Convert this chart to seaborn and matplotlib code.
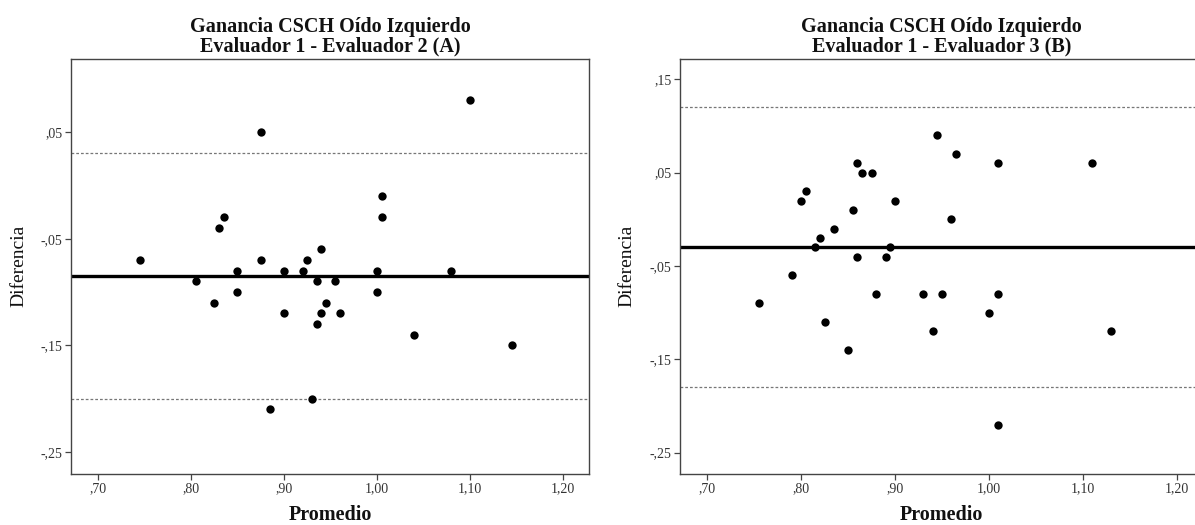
import matplotlib
matplotlib.use("Agg")
import matplotlib.pyplot as plt
import seaborn as sns
import pandas as pd

sns.set_theme(style="white")
plt.rcParams['font.family'] = ['Liberation Serif', 'DejaVu Serif']

# ---- Data: panel A (Evaluador 1 - Evaluador 2) ----
promedio_a = [1.10, 0.875, 1.005, 1.005, 0.835, 0.830, 0.940, 0.745, 0.875, 0.925,
              0.850, 0.900, 0.920, 1.000, 1.080, 0.805, 0.935, 0.955, 0.850, 1.000,
              0.825, 0.945, 0.900, 0.940, 0.960, 0.935, 1.040, 1.145, 0.930, 0.885]
diferencia_a = [0.08, 0.05, -0.01, -0.03, -0.03, -0.04, -0.06, -0.07, -0.07, -0.07,
                -0.08, -0.08, -0.08, -0.08, -0.08, -0.09, -0.09, -0.09, -0.10, -0.10,
                -0.11, -0.11, -0.12, -0.12, -0.12, -0.13, -0.14, -0.15, -0.20, -0.21]
media_a = -0.085
lim_sup_a = 0.030
lim_inf_a = -0.200

# ---- Data: panel B (Evaluador 1 - Evaluador 3) ----
promedio_b = [0.945, 0.965, 0.860, 1.010, 1.110, 0.865, 0.875, 0.805, 0.800, 0.900,
              0.855, 0.960, 0.835, 0.820, 0.815, 0.895, 0.860, 0.890, 0.790, 0.880,
              0.930, 0.950, 1.010, 0.755, 1.000, 0.825, 0.940, 1.130, 0.850, 1.010]
diferencia_b = [0.09, 0.07, 0.06, 0.06, 0.06, 0.05, 0.05, 0.03, 0.02, 0.02,
                0.01, 0.00, -0.01, -0.02, -0.03, -0.03, -0.04, -0.04, -0.06, -0.08,
                -0.08, -0.08, -0.08, -0.09, -0.10, -0.11, -0.12, -0.12, -0.14, -0.22]
media_b = -0.030
lim_sup_b = 0.120
lim_inf_b = -0.180

# ---- Text / ticks ----
titulo_a = "Ganancia CSCH Oído Izquierdo\nEvaluador 1 - Evaluador 2 (A)"
titulo_b = "Ganancia CSCH Oído Izquierdo\nEvaluador 1 - Evaluador 3 (B)"
x_ticks = [0.70, 0.80, 0.90, 1.00, 1.10, 1.20]
x_tick_labels = [",70", ",80", ",90", "1,00", "1,10", "1,20"]
y_ticks_a = [0.05, -0.05, -0.15, -0.25]
y_tick_labels_a = [",05", "-,05", "-,15", "-,25"]
y_ticks_b = [0.15, 0.05, -0.05, -0.15, -0.25]
y_tick_labels_b = [",15", ",05", "-,05", "-,15", "-,25"]

fig = plt.figure(figsize=(11.95, 5.25), dpi=100)
ax_a = fig.add_axes([71 / 1195, 1 - 473.7 / 525, 518 / 1195, (473.7 - 58.6) / 525])
ax_b = fig.add_axes([680 / 1195, 1 - 473.7 / 525, 523 / 1195, (473.7 - 58.6) / 525])

panels = [
    (ax_a, promedio_a, diferencia_a, media_a, lim_sup_a, lim_inf_a, titulo_a,
     y_ticks_a, y_tick_labels_a, (-0.2704, 0.119)),
    (ax_b, promedio_b, diferencia_b, media_b, lim_sup_b, lim_inf_b, titulo_b,
     y_ticks_b, y_tick_labels_b, (-0.2726, 0.172)),
]

for ax, xs, ys, m, up, lo, title, yt, ytl, ylim in panels:
    df = pd.DataFrame({"Promedio": xs, "Diferencia": ys})
    ax.axhline(up, color="#777777", lw=0.9, ls=(0, (2.2, 1.6)), zorder=1)
    ax.axhline(lo, color="#777777", lw=0.9, ls=(0, (2.2, 1.6)), zorder=1)
    ax.axhline(m, color="black", lw=2.4, zorder=2)
    sns.scatterplot(data=df, x="Promedio", y="Diferencia", ax=ax, color="black",
                    s=36, edgecolor="black", linewidth=0, zorder=3)
    ax.set_xlim(0.671, 1.228)
    ax.set_ylim(*ylim)
    ax.set_xticks(x_ticks)
    ax.set_xticklabels(x_tick_labels)
    ax.set_yticks(yt)
    ax.set_yticklabels(ytl)
    ax.tick_params(axis="both", which="major", direction="out", length=4, width=0.9,
                   color="#444444", labelsize=10, labelcolor="#333333", pad=2,
                   bottom=True, left=True)
    for sp in ax.spines.values():
        sp.set_color("#444444")
        sp.set_linewidth(1.0)
    ax.set_title(title, fontsize=14.5, fontweight="bold", linespacing=0.95, pad=5,
                 color="#111111")
    ax.set_xlabel("Promedio", fontsize=14.5, fontweight="bold", labelpad=7, color="#111111")
    ax.set_ylabel("Diferencia", fontsize=14, color="#111111")
    ax.yaxis.set_label_coords(-0.085, 0.5)
    ax.grid(False)

fig.savefig("out.png", dpi=100)
